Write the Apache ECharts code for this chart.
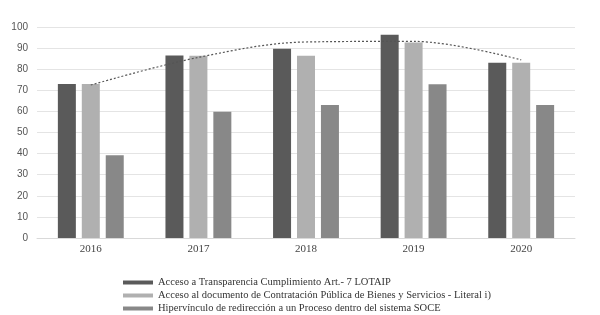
<!DOCTYPE html>
<html>
<head>
<meta charset="utf-8">
<script src="https://cdn.jsdelivr.net/npm/echarts@6/dist/echarts.min.js"></script>
<style>
  html, body { margin: 0; padding: 0; background: #fff; }
  #chart { width: 600px; height: 315px; }
</style>
</head>
<body>
<div id="chart"></div>
<script>
// values
const years = ['2016', '2017', '2018', '2019', '2020']
const seriesNames = [
  'Acceso a Transparencia Cumplimiento Art.- 7 LOTAIP',
  'Acceso al documento de Contratación Pública de Bienes y Servicios - Literal i)',
  'Hipervínculo de redirección a un Proceso dentro del sistema SOCE'
]
const transparencia = [73, 86.5, 89.7, 96.3, 83]
const contratacion = [73, 86.4, 86.4, 92.7, 83]
const hipervinculo = [39.2, 59.8, 63, 72.9, 63]
// dotted trend line (polynomial)
const trendValues = [72.5, 85.6, 92.9, 93.2, 84.4]
const yTicks = [0, 10, 20, 30, 40, 50, 60, 70, 80, 90, 100]

const colors = ['#5a5a5a', '#b0b0b0', '#888888']

const chart = echarts.init(document.getElementById('chart'))

const bars = [transparencia, contratacion, hipervinculo].map((vals, i) => ({
  name: seriesNames[i],
  type: 'bar',
  data: vals,
  barWidth: 18,
  barGap: '33%',
  itemStyle: { color: colors[i] },
  animation: false
}))

// one legend per row so the list stays in a single column
const legends = seriesNames.map((name, i) => ({
  data: [name],
  left: 118,
  top: 272 + i * 13,
  itemWidth: 30,
  itemHeight: 4,
  icon: 'rect',
  selectedMode: false,
  textStyle: { fontFamily: 'Liberation Serif', fontSize: 10.5, color: '#333' }
}))

chart.setOption({
  animation: false,
  grid: { left: 37, right: 25, top: 27, bottom: 77 },
  legend: legends,
  xAxis: {
    type: 'category',
    data: years,
    axisTick: { show: false },
    axisLine: { lineStyle: { color: '#d9d9d9' } },
    axisLabel: { fontFamily: 'Liberation Serif', fontSize: 11, color: '#444', margin: 6 }
  },
  yAxis: {
    type: 'value',
    min: yTicks[0],
    max: yTicks[yTicks.length - 1],
    interval: 10,
    axisLine: { show: false },
    axisTick: { show: false },
    axisLabel: { fontFamily: 'Liberation Sans', fontSize: 10, color: '#555', margin: 9 },
    splitLine: { lineStyle: { color: '#e4e4e4' } }
  },
  series: bars.concat([{
    name: 'trend',
    type: 'line',
    data: trendValues,
    smooth: 0.35,
    symbol: 'none',
    z: 5,
    lineStyle: { color: '#555', width: 1.2, type: [2, 2] }
  }])
})
</script>
</body>
</html>
